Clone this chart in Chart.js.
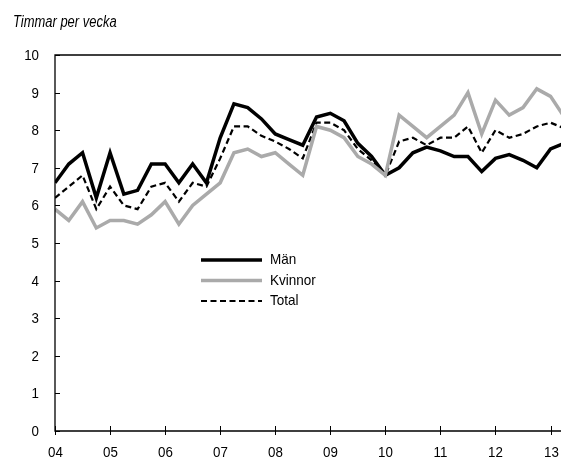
<!DOCTYPE html>
<html lang="sv">
<head>
<meta charset="utf-8">
<title>Timmar per vecka</title>
<script src="https://cdn.jsdelivr.net/npm/chart.js@4"></script>
<style>
  html, body { margin: 0; padding: 0; background: #fff; overflow: hidden; }
  #wrap { width: 561px; height: 457px; }
</style>
</head>
<body>
<div id="wrap"><canvas id="timmarChart" width="561" height="457"></canvas></div>
<script>
// Kvartal (år + kvartal)
const kvartal = [
  "04K1", "04K2", "04K3", "04K4", "05K1", "05K2", "05K3", "05K4",
  "06K1", "06K2", "06K3", "06K4", "07K1", "07K2", "07K3", "07K4",
  "08K1", "08K2", "08K3", "08K4", "09K1", "09K2", "09K3", "09K4",
  "10K1", "10K2", "10K3", "10K4", "11K1", "11K2", "11K3", "11K4",
  "12K1", "12K2", "12K3", "12K4", "13K1", "13K2"
];

// Timmar per vecka
const man = [
  6.6, 7.1, 7.4, 6.2, 7.4, 6.3, 6.4, 7.1, 7.1, 6.6, 7.1, 6.6, 7.8, 8.7, 8.6, 8.3,
  7.9, 7.75, 7.6, 8.35, 8.45, 8.25, 7.65, 7.3, 6.8, 7.0, 7.4, 7.55, 7.45, 7.3,
  7.3, 6.9, 7.25, 7.35, 7.2, 7.0, 7.5, 7.65
];
const kvinnor = [
  5.9, 5.6, 6.1, 5.4, 5.6, 5.6, 5.5, 5.75, 6.1, 5.5, 6.0, 6.3, 6.6, 7.4, 7.5, 7.3,
  7.4, 7.1, 6.8, 8.1, 8.0, 7.8, 7.3, 7.1, 6.8, 8.4, 8.1, 7.8, 8.1, 8.4,
  9.0, 7.9, 8.8, 8.4, 8.6, 9.1, 8.9, 8.35
];
const total = [
  6.2, 6.5, 6.8, 5.9, 6.5, 6.0, 5.9, 6.5, 6.6, 6.1, 6.6, 6.5, 7.25, 8.1, 8.1, 7.85,
  7.7, 7.5, 7.25, 8.2, 8.2, 8.0, 7.5, 7.2, 6.8, 7.7, 7.8, 7.6, 7.8, 7.8,
  8.1, 7.4, 8.0, 7.8, 7.9, 8.1, 8.2, 8.05
];

// Axlar
const arTicks = ["04", "05", "06", "07", "08", "09", "10", "11", "12", "13"];
const timTicks = [0, 1, 2, 3, 4, 5, 6, 7, 8, 9, 10];

const FONT = "'Liberation Sans', Arial, sans-serif";

// "04K3" -> 2004.5
function kvartalTillTal(k) {
  const ar = 2000 + parseInt(k.slice(0, 2), 10);
  const q = parseInt(k.slice(3), 10);
  return ar + (q - 1) / 4;
}
function arTillTal(a) {
  return 2000 + parseInt(a, 10);
}

function serie(values) {
  return values.map((v, i) => ({ x: kvartalTillTal(kvartal[i]), y: v }));
}

// Smal (hopträngd) text, som i originalet
function smalText(ctx, text, x, y, size, sx, align, italic) {
  ctx.save();
  ctx.font = (italic ? "italic " : "") + size + "px " + FONT;
  ctx.textAlign = align;
  ctx.translate(x, y);
  ctx.scale(sx, 1);
  ctx.fillText(text, 0, 0);
  ctx.restore();
}

// Rubrik, axellinjer, tickettiketter och legend
const ritaExtra = {
  id: "ritaExtra",
  afterDatasetsDraw(chart) {
    const { ctx, chartArea } = chart;
    const xs = chart.scales.x;
    const ys = chart.scales.y;
    ctx.save();

    // ram: vänster, botten och topp
    ctx.strokeStyle = "#000";
    ctx.lineWidth = 1.3;
    ctx.beginPath();
    ctx.moveTo(chartArea.right, chartArea.top);
    ctx.lineTo(chartArea.left, chartArea.top);
    ctx.lineTo(chartArea.left, chartArea.bottom);
    ctx.lineTo(chartArea.right, chartArea.bottom);
    ctx.stroke();

    ctx.fillStyle = "#000";
    ctx.textBaseline = "middle";

    // y-streck (inåt) + etiketter
    ctx.lineWidth = 1;
    timTicks.forEach((t) => {
      const y = Math.round(ys.getPixelForValue(t)) + 0.5;
      ctx.beginPath();
      ctx.moveTo(chartArea.left, y);
      ctx.lineTo(chartArea.left + 5, y);
      ctx.stroke();
      smalText(ctx, String(t), 39, y, 15.5, 0.86, "right");
    });

    // x-streck (genom axeln) + etiketter
    arTicks.forEach((a) => {
      const x = Math.round(xs.getPixelForValue(arTillTal(a))) + 0.5;
      ctx.beginPath();
      ctx.moveTo(x, chartArea.bottom - 5);
      ctx.lineTo(x, chartArea.bottom + 4);
      ctx.stroke();
      smalText(ctx, a, x, 452.5, 15.5, 0.86, "center");
    });

    // rubrik
    ctx.textBaseline = "alphabetic";
    smalText(ctx, "Timmar per vecka", 13, 27, 16, 0.81, "left", true);

    // legend
    ctx.textBaseline = "middle";
    const items = [
      { text: "Män", color: "#000", width: 3.5, dash: [] },
      { text: "Kvinnor", color: "#aaa", width: 3.5, dash: [] },
      { text: "Total", color: "#000", width: 2.2, dash: [6, 3.5] },
    ];
    items.forEach((it, i) => {
      const y = 260 + i * 20.5;
      ctx.strokeStyle = it.color;
      ctx.lineWidth = it.width;
      ctx.setLineDash(it.dash);
      ctx.beginPath();
      ctx.moveTo(201, y);
      ctx.lineTo(262, y);
      ctx.stroke();
      ctx.setLineDash([]);
      smalText(ctx, it.text, 270, y, 15, 0.9, "left");
    });

    ctx.restore();
  },
};

function ritaDiagram() {
  const ctx = document.getElementById("timmarChart").getContext("2d");
  window.timmarChart = new Chart(ctx, {
    type: "line",
    data: {
      datasets: [
        {
          label: "Kvinnor",
          data: serie(kvinnor),
          borderColor: "#aaaaaa",
          borderWidth: 3.5,
        },
        {
          label: "Total",
          data: serie(total),
          borderColor: "#000",
          borderWidth: 2.2,
          borderDash: [6, 3.5],
        },
        {
          label: "Män",
          data: serie(man),
          borderColor: "#000",
          borderWidth: 3.5,
        },
      ],
    },
    options: {
      responsive: false,
      animation: false,
      elements: {
        point: { radius: 0 },
        line: { tension: 0, borderJoinStyle: "miter", borderCapStyle: "butt" },
      },
      layout: { padding: { top: 55, right: 0, left: 0, bottom: 0 } },
      plugins: {
        legend: { display: false },
        tooltip: { enabled: false },
      },
      scales: {
        x: {
          type: "linear",
          min: arTillTal(arTicks[0]),
          max: 2013.19,
          afterBuildTicks: (s) => {
            s.ticks = arTicks.map((a) => ({ value: arTillTal(a) }));
          },
          afterFit: (s) => {
            s.height = 26;
          },
          ticks: { display: false },
          grid: { display: false, drawTicks: false },
          border: { display: false },
        },
        y: {
          min: timTicks[0],
          max: timTicks[timTicks.length - 1],
          afterBuildTicks: (s) => {
            s.ticks = timTicks.map((t) => ({ value: t }));
          },
          afterFit: (s) => {
            s.width = 55;
          },
          ticks: { display: false },
          grid: { display: false, drawTicks: false },
          border: { display: false },
        },
      },
    },
    plugins: [ritaExtra],
  });
}

document.addEventListener("DOMContentLoaded", ritaDiagram);
</script>
</body>
</html>
